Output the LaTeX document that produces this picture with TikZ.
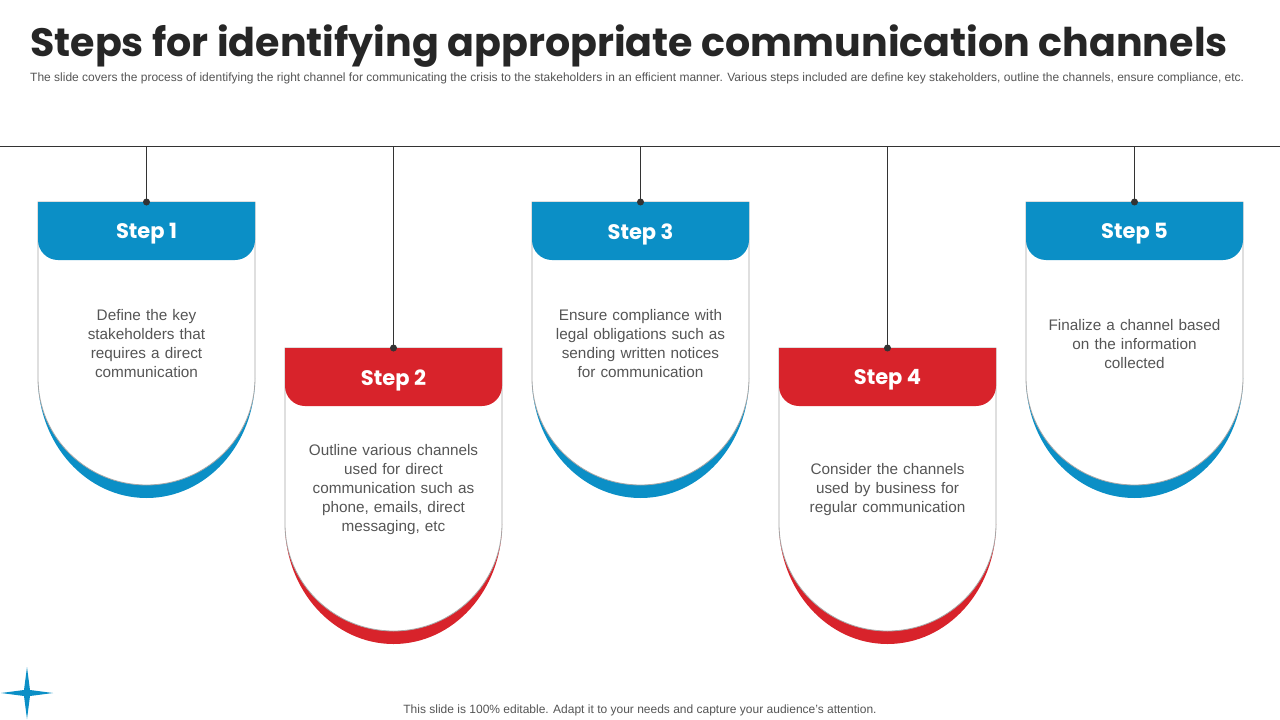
\documentclass[tikz,border=0pt]{standalone}
\usepackage{fontspec}
\setmainfont{Liberation Sans}
\newfontfamily\titlefont{Poppins}
\definecolor{cblue}{HTML}{0B8FC6}
\definecolor{cred}{HTML}{D8232B}
\definecolor{ctext}{HTML}{555555}
\definecolor{cline}{HTML}{333333}
\tikzset{
  bodytext/.style={align=center,text=ctext,font=\fontsize{15.3}{19}\selectfont,text width=180pt},
  steplabel/.style={text=white,font=\titlefont\bfseries\fontsize{21}{24}\selectfont},
}
\newcommand{\card}[6]{% x0, top, color, name, label, text
  \pgfmathsetmacro{\xr}{#1+217}
  \pgfmathsetmacro{\xc}{#1+108.5}
  \pgfmathsetmacro{\ys}{#2+176}
  \pgfmathsetmacro{\yh}{#2+58}
  \pgfmathsetmacro{\yha}{#2+38}
  \fill[#3] (#1,\ys) arc[start angle=180,end angle=0,x radius=108.5,y radius=120] -- cycle;
  \filldraw[fill=white,draw=gray!70,line width=0.8pt] (#1,#2) -- (#1,\ys) arc[start angle=180,end angle=0,x radius=108.5,y radius=107] -- (\xr,#2) -- cycle;
  \fill[#3] (#1,#2) -- (#1,\yha) arc[start angle=180,end angle=90,radius=20] -- ({\xr-20},\yh) arc[start angle=90,end angle=0,radius=20] -- (\xr,#2) -- cycle;
  \node[steplabel] (#4l) at (\xc,{#2+32}) {#5};
  \node[bodytext] (#4t) at (\xc,{#2+142}) {#6};
  \coordinate (#4top) at (\xc,146);
  \coordinate (#4dot) at (\xc,#2);
  \draw[cline,line width=0.8pt] (#4top) -- (#4dot);
  \fill[cline] (#4dot) circle (3.5);
}
\begin{document}
\begin{tikzpicture}[x=1pt,y=-1pt]
\useasboundingbox (0,0) rectangle (1280,720);
\fill[white] (0,0) rectangle (1280,720);
\node[anchor=west,inner sep=0,font=\titlefont\bfseries\fontsize{39.6}{44}\selectfont,text=black!85] (title) at (30,46) {Steps for identifying appropriate communication channels};
\node[anchor=west,inner sep=0,font=\fontsize{12}{14}\selectfont,text=ctext] (sub) at (30,78) {The slide covers the process of identifying the right channel for communicating the crisis to the stakeholders in an efficient manner. Various steps included are define key stakeholders, outline the channels, ensure compliance, etc.};
\coordinate (hl) at (0,146); \coordinate (hr) at (1280,146);
\draw[cline,line width=0.8pt] (hl) -- (hr);
\card{38}{202}{cblue}{s1}{Step 1}{Define the key\\stakeholders that\\requires a direct\\communication}
\card{285}{348}{cred}{s2}{Step 2}{Outline various channels\\used for direct\\communication such as\\phone, emails, direct\\messaging, etc}
\card{532}{202}{cblue}{s3}{Step 3}{Ensure compliance with\\legal obligations such as\\sending written notices\\for communication}
\card{779}{348}{cred}{s4}{Step 4}{Consider the channels\\used by business for\\regular communication}
\card{1026}{202}{cblue}{s5}{Step 5}{Finalize a channel based\\on the information\\collected}
\fill[cblue] (27,667) -- (30,690) -- (53,693) -- (30,696) -- (27,719) -- (24,696) -- (1,693) -- (24,690) -- cycle;
\node[font=\fontsize{12}{14}\selectfont,text=ctext] (foot) at (640,710) {This slide is 100\% editable. Adapt it to your needs and capture your audience's attention.};
\end{tikzpicture}
\end{document}
